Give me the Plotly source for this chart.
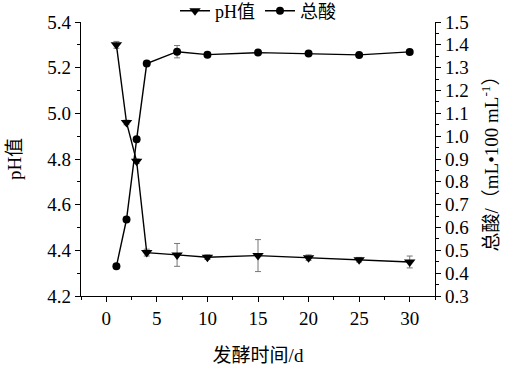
import plotly.graph_objects as go

days = [1, 2, 3, 4, 7, 10, 15, 20, 25, 30]
ph_values = [5.30, 4.96, 4.79, 4.39, 4.38, 4.37, 4.377, 4.368, 4.359, 4.349]
ph_err = [0.015, 0.01, 0.01, 0.015, 0.05, 0.01, 0.07, 0.012, 0.01, 0.026]
acid_values = [0.43, 0.635, 0.986, 1.318, 1.37, 1.357, 1.366, 1.362, 1.356, 1.369]
acid_err = [0.01, 0.01, 0.01, 0.01, 0.027, 0.01, 0.008, 0.008, 0.008, 0.008]

x_ticks = [0, 5, 10, 15, 20, 25, 30]
ph_ticks = [4.2, 4.4, 4.6, 4.8, 5.0, 5.2, 5.4]
acid_ticks = [round(0.3 + 0.1 * i, 1) for i in range(13)]

FONT = "Liberation Serif, Times New Roman, Noto Sans CJK SC, serif"

fig = go.Figure()
fig.add_trace(go.Scatter(
    x=days, y=ph_values, name="pH值", mode="lines+markers",
    line=dict(color="black", width=1.4),
    marker=dict(symbol="triangle-down", size=10, color="black"),
    error_y=dict(type="data", array=ph_err, color="#777777", thickness=1, width=3),
    yaxis="y",
))
fig.add_trace(go.Scatter(
    x=days, y=acid_values, name="总酸", mode="lines+markers",
    line=dict(color="black", width=1.4),
    marker=dict(symbol="circle", size=8, color="black"),
    error_y=dict(type="data", array=acid_err, color="#777777", thickness=1, width=3),
    yaxis="y2",
))

axis_common = dict(
    showline=True, linecolor="black", linewidth=1.2, showgrid=False, zeroline=False,
    ticks="outside", ticklen=5, tickwidth=1, tickcolor="black",
    tickfont=dict(family=FONT, size=19, color="black"),
    automargin=False,
)

fig.update_layout(
    width=517, height=372,
    margin=dict(l=81, r=82, t=22, b=76, autoexpand=False),
    paper_bgcolor="white", plot_bgcolor="white",
    font=dict(family=FONT, size=19, color="black"),
    showlegend=True,
    legend=dict(orientation="h", x=0.5, xanchor="center", y=1.04, yanchor="middle",
                font=dict(family=FONT, size=18), bgcolor="rgba(0,0,0,0)",
                itemwidth=30, tracegroupgap=0),
    xaxis=dict(
        range=[-2.5, 32.5], tickvals=x_ticks, ticktext=[str(v) for v in x_ticks],
        minor=dict(dtick=2.5, tick0=0, ticks="outside", ticklen=3, tickcolor="black"),
        title=dict(text="发酵时间/d", font=dict(family=FONT, size=19), standoff=20),
        **axis_common,
    ),
    yaxis=dict(
        range=[4.2, 5.4], tickvals=ph_ticks, ticktext=[f"{v:.1f}" for v in ph_ticks],
        minor=dict(dtick=0.1, tick0=4.2, ticks="outside", ticklen=3, tickcolor="black"),
        title=dict(text="pH值", font=dict(family=FONT, size=19), standoff=20),
        **axis_common,
    ),
    yaxis2=dict(
        range=[0.3, 1.5], overlaying="y", side="right",
        tickvals=acid_ticks, ticktext=[f"{v:.1f}" for v in acid_ticks],
        minor=dict(dtick=0.05, tick0=0.3, ticks="outside", ticklen=3, tickcolor="black"),
        title=dict(text="总酸/（mL•100 mL<sup>-1</sup>）", font=dict(family=FONT, size=19), standoff=16),
        **axis_common,
    ),
)

fig.write_html("out.html", config={"displayModeBar": False},
               post_script="document.body.style.margin='0';")
